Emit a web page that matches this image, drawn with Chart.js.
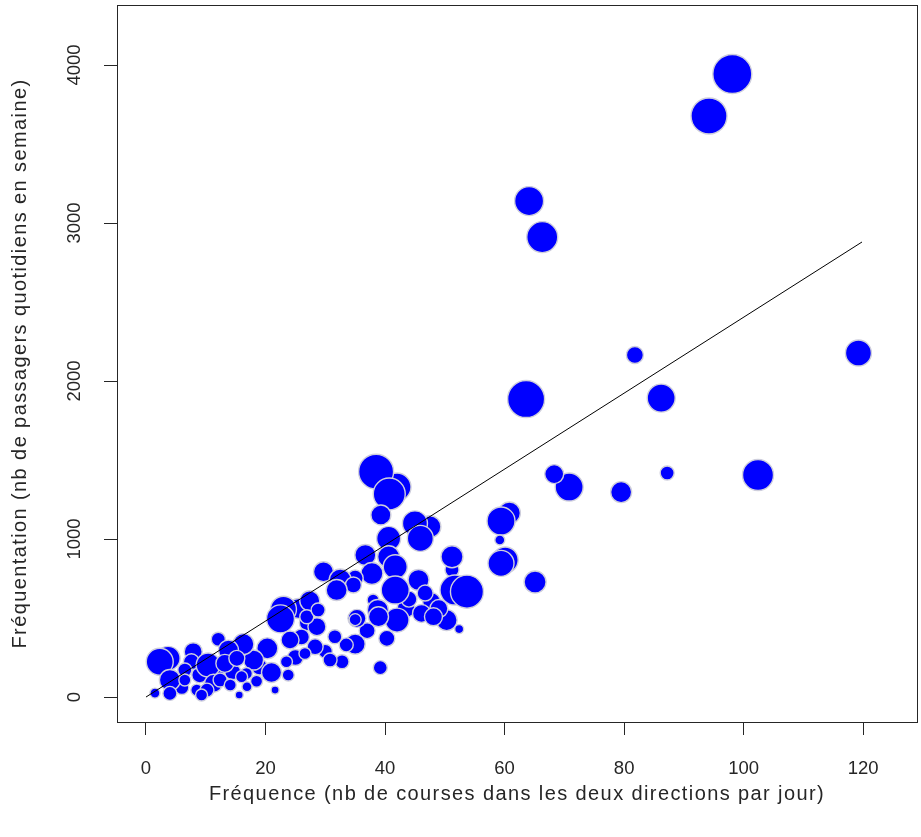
<!DOCTYPE html>
<html>
<head>
<meta charset="utf-8">
<title>Fréquentation et fréquence des lignes</title>
<script src="https://cdn.jsdelivr.net/npm/chart.js"></script>
<style>
    html, body { margin: 0; padding: 0; background: #fff; }
    canvas { display: block; }
</style>
</head>
<body>
<canvas id="graphe" width="921" height="837"></canvas>
<script>
// une bulle par ligne : fréquence (courses/jour), fréquentation (passagers/jour), taille
const frequence = [
    98.1, 94.2, 64.1, 66.3, 119.2, 81.8, 63.6, 86.2, 87.2, 102.4, 79.5, 70.8, 68.3, 65.1,
    60.8, 59.4, 59.2, 60.1, 59.4, 51.2, 51.2, 51.7, 53.7, 50.3, 47.8, 52.4,
    43.5, 44.0, 49.0, 37.0,
    42.0, 38.5, 40.7, 39.3, 47.5, 45.0, 45.9, 40.6, 36.7, 40.6, 41.7, 37.8, 35.0, 45.6, 41.7, 46.7, 38.0,
    38.8, 35.3, 35.0, 42.0, 46.1, 48.1, 40.3, 35.0, 39.2,
    25.5, 27.0, 26.0, 25.0, 30.0, 33.5, 19.0, 18.5,
    29.7, 32.5, 34.7, 31.9, 27.4, 23.0, 22.5, 38.9, 28.6, 31.6, 32.8, 26.9, 28.8, 28.3, 26.6, 30.8, 24.1,
    20.3, 18.0, 16.3, 21.0, 16.8, 23.8, 21.6, 16.9, 23.5,
    14.5, 9.0, 6.0, 11.5,
    3.7, 2.3, 4.0, 1.5, 4.0, 7.9, 7.6, 6.5, 6.5, 8.5, 10.4, 11.3, 10.2, 9.3, 12.1, 13.8, 13.2, 15.2,
    12.4, 14.1, 16.0, 15.6
];
const frequentation = [
    3943, 3677, 3139, 2911, 2177, 2165, 1886, 1892, 1418, 1405, 1297, 1329, 1411, 728,
    1165, 1114, 994, 867, 846, 804, 888, 677, 667, 487, 603, 430,
    560, 620, 560, 420,
    1329, 1426, 1285, 1152, 1078, 1099, 1004, 1004, 899, 888, 825, 782, 753, 741, 677, 658, 614,
    551, 498, 490, 487, 529, 508, 371, 335, 186,
    560, 470, 380, 250, 290, 330, 190, 100,
    793, 741, 709, 677, 609, 556, 495, 508, 445, 382, 223, 508, 551, 318, 276, 234, 361,
    308, 234, 335, 155, 149, 139, 44, 65, 223,
    160, 140, 60, 150,
    245, 223, 108, 25, 23, 287, 223, 171, 108, 44, 203, 87, 44, 13, 366, 297, 213, 245,
    108, 76, 129, 13
];
const taille = [
    19.5, 18, 14.5, 15.5, 13, 8.5, 18.5, 14, 7, 15.5, 10.5, 14, 9.5, 11,
    11, 14, 5, 13, 13, 7, 11, 15, 16.5, 10.5, 9, 4.5,
    9, 8, 9, 8,
    14, 17.5, 16, 10, 11, 12.5, 13, 12, 10.5, 11, 12, 11, 8, 10.5, 14, 8, 6,
    10.5, 9, 6, 12, 9, 9, 8, 10, 7,
    10, 8, 8, 8, 7, 7, 8, 6,
    10, 11, 8, 10.5, 10, 13, 14, 10, 9, 7, 7, 7, 7, 8, 6, 7, 9,
    10.5, 10, 10.5, 10, 6, 6, 4, 5, 6,
    8, 8, 7, 9,
    12, 13.5, 10.5, 5, 7, 9, 8, 7, 6, 6, 12, 9, 7, 6, 7, 10, 9, 8,
    7, 6, 6, 4
];

// droite d'ajustement
const droiteX = [0, 119.8];
const droiteY = [0, 2880];

const ticksX = [0, 20, 40, 60, 80, 100, 120];
const ticksY = [0, 1000, 2000, 3000, 4000];

const encre = '#262626';

// cadre autour de la zone de tracé
const cadre = {
    id: 'cadre',
    afterDraw(chart) {
        const { ctx, chartArea: a } = chart;
        ctx.save();
        ctx.strokeStyle = encre;
        ctx.lineWidth = 1;
        ctx.strokeRect(a.left + 0.5, a.top + 0.5, a.right - a.left, a.bottom - a.top);
        ctx.restore();
    }
};

// titres des axes un peu plus espacés
const espacement = {
    id: 'espacement',
    beforeDraw(chart) {
        Object.values(chart.scales).forEach(s => {
            if (s._titreEspace) return;
            const dessiner = s.drawTitle;
            s.drawTitle = function () {
                const c = this.ctx;
                const avant = c.letterSpacing;
                c.letterSpacing = '1.4px';
                dessiner.call(this);
                c.letterSpacing = avant;
            };
            s._titreEspace = true;
        });
    }
};

Chart.defaults.font.family = '"Liberation Sans", Arial, sans-serif';
Chart.defaults.color = encre;

new Chart(document.getElementById('graphe'), {
    type: 'bubble',
    data: {
        datasets: [{
            type: 'line',
            data: droiteX.map((x, i) => ({ x: x, y: droiteY[i] })),
            borderColor: '#000',
            borderWidth: 1,
            pointRadius: 0,
            fill: false,
            order: 0
        }, {
            data: frequence.map((x, i) => ({ x: x, y: frequentation[i], r: taille[i] })),
            backgroundColor: '#0000ff',
            borderColor: '#cfcfdc',
            borderWidth: 1.4,
            order: 1
        }]
    },
    options: {
        responsive: false,
        animation: false,
        layout: { autoPadding: false, padding: { top: 5, right: 4, left: 0, bottom: 0 } },
        plugins: { legend: { display: false }, tooltip: { enabled: false } },
        scales: {
            x: {
                type: 'linear',
                min: -4.85,
                max: 129,
                afterBuildTicks: s => { s.ticks = ticksX.map(v => ({ value: v })); },
                afterFit: s => { s.height = 115; s.paddingLeft = 0; s.paddingRight = 0; },
                grid: { drawOnChartArea: false, tickLength: 13, tickColor: encre, tickWidth: 1 },
                border: { display: false },
                ticks: { padding: 23, maxRotation: 0, autoSkip: false, font: { size: 18.5 }, callback: v => String(v) },
                title: {
                    display: true,
                    text: 'Fréquence (nb de courses dans les deux directions par jour)',
                    font: { size: 20 },
                    padding: { top: 0, bottom: 31 }
                }
            },
            y: {
                type: 'linear',
                min: -158,
                max: 4380,
                afterBuildTicks: s => { s.ticks = ticksY.map(v => ({ value: v })); },
                afterFit: s => { s.width = 117; s.paddingTop = 0; s.paddingBottom = 0; },
                grid: { drawOnChartArea: false, tickLength: 13, tickColor: encre, tickWidth: 1 },
                border: { display: false },
                ticks: {
                    padding: 9, minRotation: 90, maxRotation: 90, crossAlign: 'center',
                    font: { size: 18.5 }, callback: v => String(v)
                },
                title: {
                    display: true,
                    text: 'Fréquentation (nb de passagers quotidiens en semaine)',
                    font: { size: 20 },
                    padding: { top: 8, bottom: 0 }
                }
            }
        }
    },
    plugins: [cadre, espacement]
});
</script>
</body>
</html>
